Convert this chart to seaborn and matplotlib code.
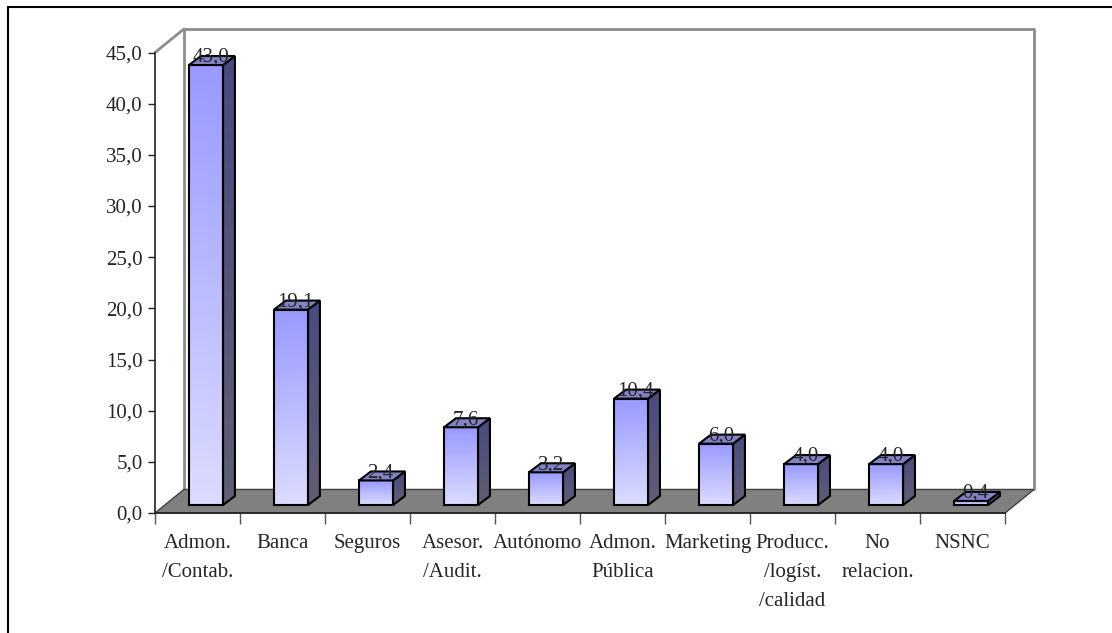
import numpy as np
import pandas as pd
import matplotlib.pyplot as plt
import matplotlib.lines as mlines
from matplotlib.patches import Polygon
from matplotlib.colors import LinearSegmentedColormap
import seaborn as sns

categories = ['Admon.\n/Contab.', 'Banca', 'Seguros', 'Asesor.\n/Audit.', 'Autónomo',
              'Admon.\nPública', 'Marketing', 'Producc.\n/logíst.\n/calidad',
              'No\nrelacion.', 'NSNC']
values = [43.0, 19.1, 2.4, 7.6, 3.2, 10.4, 6.0, 4.0, 4.0, 0.4]
y_ticks = [0, 5, 10, 15, 20, 25, 30, 35, 40, 45]

df = pd.DataFrame({'cat': categories, 'pct': values})
n = len(categories)
y_max = y_ticks[-1]

sns.set_style('white')
plt.rcParams['font.family'] = ['Liberation Serif', 'DejaVu Serif']
FS = 15

# fake 3D geometry, in data units
DEPTH_X, DEPTH_Y = 0.34, 2.3   # floor / back wall offset
BAR_X, BAR_Y = 0.1, 0.78       # where the bars sit inside the depth
SIDE_X, SIDE_Y = 0.14, 0.88    # depth of a bar
BAR_W = 0.4

fig = plt.figure(figsize=(11.12, 6.33), dpi=100)
ax = fig.add_axes([155/1112, 120/633, 879/1112, 484/633])

sns.barplot(data=df, x='cat', y='pct', width=BAR_W, color='#9999ff',
            errorbar=None, ax=ax)

front_cmap = LinearSegmentedColormap.from_list('front', ['#dcdcff', '#9999ff'])
side_cmap = LinearSegmentedColormap.from_list('side', ['#5f5f74', '#4a4a80'])
grad = np.linspace(0, 1, 256).reshape(-1, 1)

for bar, v in zip(ax.patches[:n], values):
    bar.set_x(bar.get_x() + BAR_X)
    bar.set_y(BAR_Y)
    x0 = bar.get_x()
    x1 = x0 + bar.get_width()
    b = BAR_Y
    t = BAR_Y + bar.get_height()
    bar.set_facecolor('none')
    bar.set_edgecolor('black')
    bar.set_linewidth(1.5)
    bar.set_zorder(5)
    ax.imshow(grad, extent=(x0, x1, b, t), origin='lower', cmap=front_cmap,
              aspect='auto', zorder=4)

    # side face
    side = Polygon([(x1, b), (x1 + SIDE_X, b + SIDE_Y), (x1 + SIDE_X, t + SIDE_Y), (x1, t)],
                   closed=True, fc='none', ec='black', lw=1.5, zorder=5)
    ax.add_patch(side)
    simg = ax.imshow(grad, extent=(x1, x1 + SIDE_X, b, t + SIDE_Y), origin='lower',
                     cmap=side_cmap, aspect='auto', zorder=4)
    simg.set_clip_path(side)

    # top face
    top = Polygon([(x0, t), (x0 + SIDE_X, t + SIDE_Y), (x1 + SIDE_X, t + SIDE_Y), (x1, t)],
                  closed=True, fc='#8282c6', ec='black', lw=1.5, zorder=5)
    ax.add_patch(top)

    ax.text((x0 + x1) / 2 + 0.055, t + 0.75, f'{v:.1f}'.replace('.', ','),
            ha='center', va='center', fontsize=FS, zorder=6)

# floor and back wall
floor = Polygon([(-0.5, 0), (n - 0.5, 0), (n - 0.5 + DEPTH_X, DEPTH_Y), (-0.5 + DEPTH_X, DEPTH_Y)],
                closed=True, fc='#808080', ec='#404040', lw=1, zorder=1, clip_on=False)
ax.add_patch(floor)
ax.plot([-0.5 + DEPTH_X, -0.5 + DEPTH_X, n - 0.5 + DEPTH_X, n - 0.5 + DEPTH_X],
        [DEPTH_Y, y_max + DEPTH_Y, y_max + DEPTH_Y, DEPTH_Y],
        color='#8c8c8c', lw=2, clip_on=False, zorder=0.5)
ax.plot([-0.5, -0.5 + DEPTH_X], [y_max, y_max + DEPTH_Y],
        color='#8c8c8c', lw=2, clip_on=False, zorder=0.5)

# axes
sns.despine(ax=ax, top=True, right=True)
ax.spines['left'].set_bounds(0, y_max)
ax.spines['bottom'].set_bounds(-0.5, n - 0.5)
for s in ['left', 'bottom']:
    ax.spines[s].set_color('#222222')
    ax.spines[s].set_linewidth(1.2)

ax.set_yticks(y_ticks)
ax.set_yticklabels([f'{t:.1f}'.replace('.', ',') for t in y_ticks])
ax.tick_params(axis='y', left=True, direction='out', length=5, width=1,
               color='#222222', pad=4, labelsize=FS)

ax.set_xticks(np.arange(-0.5, n, 1))
ax.set_xticklabels([''] * (n + 1))
ax.set_xticks(np.arange(n), minor=True)
ax.set_xticklabels(categories, minor=True)
ax.tick_params(axis='x', which='major', bottom=True, direction='out', length=8,
               width=1, color='#555555')
ax.tick_params(axis='x', which='minor', bottom=True, length=0, pad=15, labelsize=FS)
for lab in ax.get_xticklabels(minor=True):
    lab.set_linespacing(1.72)

ax.set_xlabel('')
ax.set_ylabel('')
ax.set_xlim(-0.5, n - 0.5 + DEPTH_X)
ax.set_ylim(0, y_max + DEPTH_Y)
ax.patch.set_alpha(0)

# outer chart frame
fig.add_artist(mlines.Line2D([8/1112, 8/1112], [0, 1 - 7/633], color='black', lw=1.5))
fig.add_artist(mlines.Line2D([8/1112, 1], [1 - 7/633, 1 - 7/633], color='black', lw=1.5))

fig.savefig('out.png', dpi=100)
plt.close(fig)
